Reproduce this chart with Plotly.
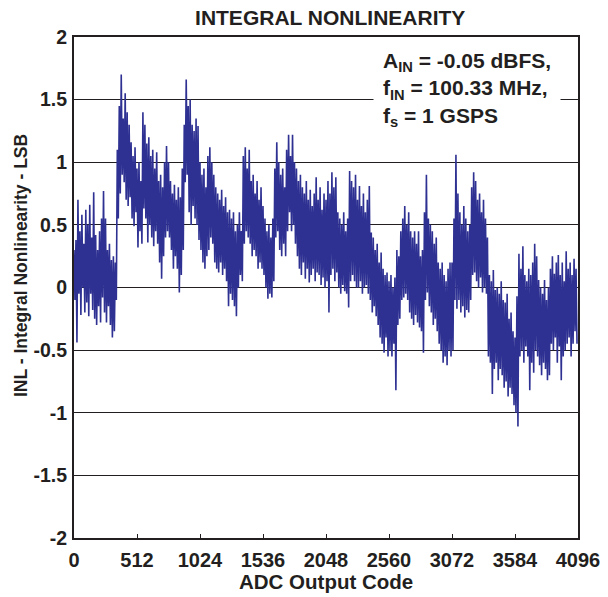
import plotly.graph_objects as go

# ADC output code step between successive local maxima
CODE_STEP = 16
# INL local maxima (LSB) at codes 0, 16, 32, ... 4080
inl_peaks = [
    0.30, 0.38, 0.70, 0.45, 0.58, 0.35, 0.62, 0.50, 0.66, 0.40, 0.76, 0.42, 0.30, 0.45, 0.55, 0.77,
    0.55, 0.30, 0.35, 0.22, 0.25, 0.20, 1.10, 1.45, 1.70, 1.35, 1.55, 1.40, 1.30, 1.16, 1.05, 1.12,
    0.95, 1.00, 0.85, 1.40, 1.30, 1.15, 1.20, 1.05, 1.10, 0.95, 1.08, 0.85, 0.90, 0.80, 1.00, 1.13,
    1.00, 0.85, 0.75, 0.82, 0.70, 0.80, 0.72, 0.95, 1.30, 1.66, 1.45, 1.50, 1.30, 1.25, 1.35, 1.29,
    1.00, 0.90, 0.95, 0.80, 1.05, 1.12, 1.00, 0.90, 0.80, 0.75, 0.70, 0.78, 0.65, 0.72, 0.60, 0.62,
    0.55, 0.60, 0.45, 0.50, 0.60, 0.45, 1.05, 1.12, 0.95, 1.10, 0.85, 0.90, 0.75, 0.85, 0.70, 0.80,
    0.65, 0.55, 0.45, 0.50, 0.40, 0.55, 0.95, 1.16, 1.00, 0.90, 0.95, 0.80, 1.10, 1.22, 1.05, 1.22,
    1.00, 0.95, 0.85, 0.90, 0.80, 0.75, 0.85, 0.70, 0.78, 0.65, 0.75, 0.88, 0.70, 0.80, 0.62, 0.75,
    0.70, 0.85, 0.75, 0.92, 0.80, 0.88, 0.60, 0.55, 0.50, 0.60, 0.45, 0.55, 0.93, 0.85, 0.80, 0.90,
    0.70, 0.81, 0.65, 0.75, 0.60, 0.70, 0.81, 0.44, 0.40, 0.30, 0.35, 0.20, 0.28, 0.15, 0.10, 0.12,
    0.05, 0.10, 0.00, 0.08, 0.30, 0.25, 0.45, 0.55, 0.65, 0.50, 0.60, 0.45, 0.40, 0.45, 0.35, 0.45,
    0.25, 0.30, 0.60, 0.90, 0.55, 0.50, 0.45, 0.35, 0.40, 0.20, 0.15, 0.20, 0.10, 0.05, 0.15, 0.20,
    0.20, 0.55, 1.06, 0.75, 0.60, 0.50, 0.65, 0.55, 0.45, 0.50, 0.80, 0.92, 0.85, 0.70, 0.75, 0.60,
    0.70, 0.55, 0.40, 0.10, 0.05, 0.14, -0.02, 0.00, -0.05, 0.05, -0.10, -0.12, -0.05, -0.25, -0.20, -0.35,
    -0.40, -0.07, 0.27, 0.15, 0.33, 0.10, 0.05, 0.15, 0.10, 0.20, 0.35, 0.25, 0.06, 0.00, -0.05, 0.06,
    -0.10, 0.00, 0.15, 0.25, 0.11, 0.20, 0.26, 0.10, 0.20, 0.05, 0.29, 0.15, 0.20, 0.10, 0.23, 0.15,
]
# INL local minima (LSB) at codes 8, 24, 40, ... 4088
inl_troughs = [
    -0.10, -0.44, -0.05, -0.22, 0.00, -0.20, -0.12, -0.23, -0.05, -0.18, -0.25, -0.30, -0.15, -0.28, -0.08, -0.20,
    -0.28, -0.15, -0.30, -0.40, -0.35, -0.10, 0.55, 0.75, 0.90, 0.84, 0.70, 0.65, 0.72, 0.55, 0.49, 0.60,
    0.32, 0.45, 0.35, 0.63, 0.55, 0.36, 0.50, 0.40, 0.33, 0.45, 0.35, 0.20, 0.07, 0.25, 0.40, 0.45,
    0.40, 0.30, 0.15, 0.25, 0.15, -0.04, 0.10, 0.30, 0.84, 0.90, 0.60, 0.50, 0.65, 0.55, 0.50, 0.38,
    0.30, 0.20, 0.15, 0.25, 0.30, 0.40, 0.35, 0.20, 0.15, 0.12, 0.20, 0.10, 0.15, 0.05, -0.15, -0.05,
    -0.10, -0.15, -0.23, 0.00, 0.10, 0.05, 0.35, 0.45, 0.40, 0.35, 0.25, 0.30, 0.25, 0.15, 0.20, 0.15,
    0.10, 0.00, -0.09, -0.05, -0.08, 0.05, 0.40, 0.45, 0.30, 0.25, 0.35, 0.25, 0.45, 0.60, 0.45, 0.50,
    0.35, 0.25, 0.15, 0.10, 0.20, 0.07, 0.15, 0.04, 0.10, 0.15, 0.05, 0.12, 0.10, 0.02, 0.08, 0.00,
    0.05, -0.20, 0.10, 0.15, 0.05, 0.12, 0.00, -0.05, 0.02, -0.03, -0.05, -0.16, 0.05, 0.10, 0.05, 0.00,
    0.00, 0.05, -0.05, 0.00, 0.02, -0.05, -0.10, -0.20, -0.15, -0.23, -0.30, -0.40, -0.45, -0.52, -0.40, -0.55,
    -0.50, -0.55, -0.45, -0.82, -0.30, -0.25, -0.10, -0.08, -0.05, -0.10, -0.20, -0.25, -0.30, -0.22, -0.28, -0.32,
    -0.35, -0.52, -0.10, -0.04, -0.15, -0.20, -0.30, -0.25, -0.35, -0.45, -0.50, -0.60, -0.55, -0.62, -0.50, -0.55,
    -0.50, -0.10, -0.17, -0.10, -0.20, -0.15, -0.24, -0.18, -0.20, -0.10, 0.10, 0.12, 0.05, 0.00, 0.08, -0.04,
    0.00, -0.05, -0.55, -0.60, -0.85, -0.65, -0.60, -0.74, -0.65, -0.70, -0.80, -0.75, -0.87, -0.80, -0.85, -0.94,
    -1.00, -1.11, -0.55, -0.50, -0.60, -0.47, -0.55, -0.82, -0.60, -0.68, -0.50, -0.55, -0.62, -0.70, -0.60, -0.65,
    -0.74, -0.70, -0.45, -0.50, -0.40, -0.60, -0.47, -0.74, -0.55, -0.50, -0.45, -0.40, -0.55, -0.45, -0.35, -0.45,
]

x_tick_values = [0, 512, 1024, 1536, 2048, 2560, 3072, 3584, 4096]
y_tick_values = [-2, -1.5, -1, -0.5, 0, 0.5, 1, 1.5, 2]
y_tick_labels = ["-2", "-1.5", "-1", "-0.5", "0", "0.5", "1", "1.5", "2"]

codes, inl = [], []
for k, (hi, lo) in enumerate(zip(inl_peaks, inl_troughs)):
    codes += [k * CODE_STEP, k * CODE_STEP + CODE_STEP // 2]
    inl += [hi, lo]

FONT = "Liberation Sans, Arial, sans-serif"
BLUE = "#2e3192"
INK = "#231f20"

fig = go.Figure()
fig.add_trace(go.Scatter(x=codes, y=inl, mode="lines",
                         line=dict(color=BLUE, width=1.6), hoverinfo="skip",
                         showlegend=False))

fig.update_layout(
    width=600, height=589,
    margin=dict(l=66, r=30, t=29, b=59, autoexpand=False),
    paper_bgcolor="white", plot_bgcolor="white",
    font=dict(family=FONT, color=INK, size=19),
    title=dict(text="<b>INTEGRAL NONLINEARITY</b>", x=0.537, xanchor="center",
               y=0.983, yanchor="middle", font=dict(size=21, family=FONT, color=INK)),
    xaxis=dict(range=[0, 4096], tickvals=x_tick_values,
               ticktext=[f"<b>{v}</b>" for v in x_tick_values],
               ticks="inside", ticklen=4, tickcolor=INK,
               tickfont=dict(size=20, family=FONT), ticklabelstandoff=3,
               ticklabeloverflow="allow", automargin=False,
               showgrid=False, zeroline=False,
               showline=True, linecolor=INK, linewidth=2, mirror=True),
    yaxis=dict(range=[-2, 2], tickvals=y_tick_values,
               ticktext=[f"<b>{t}</b>" for t in y_tick_labels],
               ticks="", showgrid=True, gridcolor=INK, gridwidth=1,
               tickfont=dict(size=19.5, family=FONT),
               ticklabeloverflow="allow", automargin=False,
               zeroline=False, ticklabelstandoff=1,
               showline=True, linecolor=INK, linewidth=2, mirror=True),
    annotations=[
        dict(text="<b>ADC Output Code</b>",
             xref="paper", yref="paper", x=0.5, y=-0.087,
             xanchor="center", yanchor="middle", showarrow=False,
             font=dict(size=20.5, family=FONT)),
        dict(text="<b>INL - Integral Nonlinearity - LSB</b>", textangle=-90,
             xref="paper", yref="paper", x=-0.105, y=0.543,
             xanchor="center", yanchor="middle", showarrow=False,
             font=dict(size=17.5, family=FONT)),
        dict(text="<b>A<sub>IN</sub> = -0.05 dBFS,<br>f<sub>IN</sub> = 100.33 MHz,<br>f<sub>s</sub> = 1 GSPS</b>",
             xref="paper", yref="paper", x=0.593, y=0.996, xanchor="left", yanchor="top",
             align="left", showarrow=False, bgcolor="white", borderpad=9,
             font=dict(size=21, family=FONT)),
    ],
)

fig.write_html("out.html")
